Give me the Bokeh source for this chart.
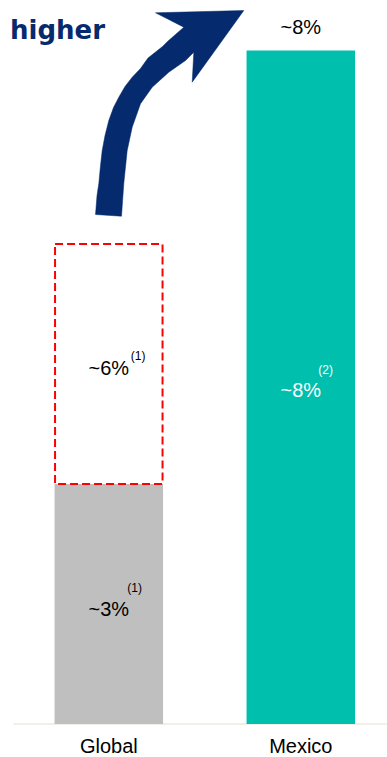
from bokeh.plotting import figure
from bokeh.models import Range1d
from bokeh.core.properties import value
from bokeh.embed import file_html
from bokeh.resources import INLINE

# ---- data ----
categories = ["Global", "Mexico"]
cat_x = [0, 1]
global_base = 3.0          # grey bar (~3%)
global_total = 6.0         # dashed outline top (~6%)
mexico_value = 8.42        # teal bar (~8%)
label_base = "~3%"
label_total = "~6%"
label_mexico = "~8%"
note_base = "(1)"
note_total = "(1)"
note_mexico = "(2)"
headline = "higher"

# decorative arrow outline, in screen pixels (x, y from top-left)
arrow_x = [95, 96.5, 98.3, 100, 101.7, 104.5, 108.3, 113, 118.3, 124.5, 131.7, 140,
           147.5, 162, 167, 183.3, 155, 243.3, 191.7, 193.3, 185, 168.3, 151.7, 140,
           131.7, 126.7, 123.3, 121]
arrow_y = [214, 195, 183, 165, 150, 135, 120, 107, 96.7, 86, 76.7, 68,
           57.5, 46, 41, 26.7, 12.3, 10, 81.7, 51.7, 60, 71.7, 86.7, 103.3,
           126.7, 150, 183, 215.7]

W, H = 387, 757
PX_PER_UNIT = 80.0
BASE_PX = 723.5
CAT_PX = 192.0
X0_PX = 108.3

y_top = BASE_PX / PX_PER_UNIT
y_bot = -(H - BASE_PX) / PX_PER_UNIT
x_start = -X0_PX / CAT_PX
x_end = (W - X0_PX) / CAT_PX
bar_w = 108.5 / CAT_PX

p = figure(width=W, height=H, output_backend="svg", toolbar_location=None,
           x_range=Range1d(x_start, x_end), y_range=Range1d(y_bot, y_top),
           min_border=0, outline_line_color=None)
p.axis.visible = False
p.grid.visible = False
p.background_fill_color = "white"
p.border_fill_color = "white"

p.extra_x_ranges = {"px": Range1d(0, W)}
p.extra_y_ranges = {"px": Range1d(H, 0)}

FONT = value("Liberation Sans")

# baseline
p.segment(x0=[(13 - X0_PX) / CAT_PX], y0=[0], x1=[x_end], y1=[0],
          line_color="#EDEADF", line_width=1.5)

# bars
p.vbar(x=[cat_x[0]], width=bar_w, bottom=0, top=[global_base],
       fill_color="#BFBFBF", line_color=None)
p.vbar(x=[cat_x[1]], width=bar_w, bottom=0, top=[mexico_value],
       fill_color="#00BFAD", line_color=None)
p.vbar(x=[cat_x[0]], width=bar_w - 1.0 / CAT_PX, bottom=[global_base], top=[global_total],
       fill_color=None, line_color="#FF0000", line_width=2, line_dash="8 4")

# value labels
p.text(x=[cat_x[0]], y=[(global_base + global_total) / 2], text=[label_total],
       text_font=FONT, text_font_size="20px", text_color="black",
       text_align="center", text_baseline="middle", y_offset=4)
p.text(x=[cat_x[0]], y=[global_base / 2], text=[label_base],
       text_font=FONT, text_font_size="20px", text_color="black",
       text_align="center", text_baseline="middle", y_offset=4.5)
p.text(x=[cat_x[1]], y=[mexico_value / 2], text=[label_mexico],
       text_font=FONT, text_font_size="20px", text_color="white",
       text_align="center", text_baseline="middle", y_offset=3)
p.text(x=[cat_x[1]], y=[mexico_value], text=[label_mexico],
       text_font=FONT, text_font_size="20px", text_color="black",
       text_align="center", text_baseline="middle", y_offset=-23.5)

# footnote markers
p.text(x=[cat_x[0]], y=[(global_base + global_total) / 2], text=[note_total],
       text_font=FONT, text_font_size="12px", text_color="black",
       text_align="left", text_baseline="middle", x_offset=22, y_offset=-8)
p.text(x=[cat_x[0]], y=[global_base / 2], text=[note_base],
       text_font=FONT, text_font_size="12px", text_color="black",
       text_align="left", text_baseline="middle", x_offset=18.5, y_offset=-16)
p.text(x=[cat_x[1]], y=[mexico_value / 2], text=[note_mexico],
       text_font=FONT, text_font_size="12px", text_color="white",
       text_align="left", text_baseline="middle", x_offset=17.5, y_offset=-17)

# category labels
p.text(x=cat_x, y=[0, 0], text=categories,
       text_font=FONT, text_font_size="20px", text_color="black",
       text_align="center", text_baseline="middle", y_offset=22)

# arrow and headline
p.patch(arrow_x, arrow_y, x_range_name="px", y_range_name="px",
        fill_color="#052A6E", line_color="#052A6E", line_width=0.5)
p.text(x=[9.5], y=[29.5], text=[headline], x_range_name="px", y_range_name="px",
       text_font=value("DejaVu Sans"), text_font_style="bold", text_font_size="26px",
       text_color="#052A6E", text_align="left", text_baseline="alphabetic")

open("out.html", "w").write(file_html(p, INLINE))
